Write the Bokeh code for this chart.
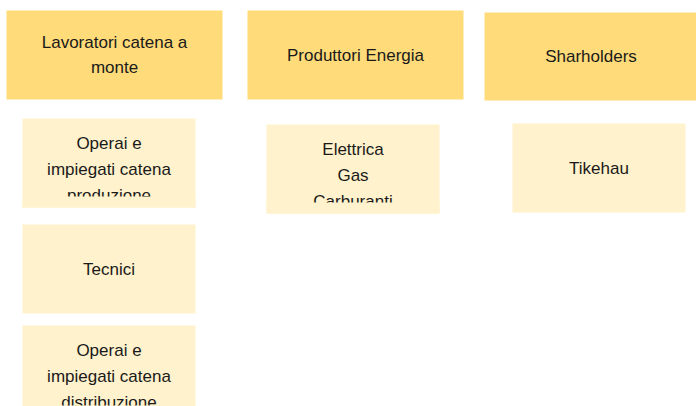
from bokeh.plotting import figure
from bokeh.models import Range1d
from bokeh.core.properties import value
from bokeh.embed import file_html
from bokeh.resources import INLINE

# ---- data ----
headers = ["Lavoratori catena a\nmonte", "Produttori Energia", "Sharholders"]
col1_items = ["Operai e\nimpiegati catena\nproduzione", "Tecnici", "Operai e\nimpiegati catena\ndistribuzione"]
col2_items = ["Elettrica\nGas\nCarburanti"]
col3_items = ["Tikehau"]

# ---- layout (page pixel coordinates) ----
header_boxes = [(6, 222, 10, 99), (247, 463, 10, 99), (484, 697, 12, 100)]
item_boxes = [
    [(22, 195, 118, 207), (22, 195, 224, 313), (22, 195, 325, 416)],
    [(266, 439, 124, 213)],
    [(512, 685, 123, 212)],
]
HEADER_COLOR = "#FFDB79"
ITEM_COLOR = "#FFF2CC"
TEXT_COLOR = "#1A1A1A"
FONT = "Liberation Sans"
FS = "17px"
LINE = 26
CLIP = 11

p = figure(width=696, height=406, output_backend="svg", toolbar_location=None,
           x_range=Range1d(0, 696), y_range=Range1d(406, 0), min_border=0)
p.axis.visible = False
p.grid.visible = False
p.outline_line_color = None
p.background_fill_color = "white"
p.border_fill_color = "white"

def draw(labels, boxes, color):
    l = [b[0] for b in boxes]; r = [b[1] for b in boxes]
    t = [b[2] for b in boxes]; bt = [b[3] for b in boxes]
    p.quad(left=l, right=r, top=t, bottom=bt, fill_color=color, line_color=None)
    xs, ys, ts = [], [], []
    covers = []
    for lab, (x0, x1, y0, y1) in zip(labels, boxes):
        lines = lab.split("\n")
        cx = (x0 + x1) / 2
        if len(lines) == 3:
            start = y0 + 25
            covers.append((x0, x1, y1 - CLIP, y1))
        else:
            start = (y0 + y1) / 2 - (len(lines) - 1) * 12.5
        step = LINE if len(lines) == 3 else 25
        for i, ln in enumerate(lines):
            xs.append(cx); ys.append(start + i * step); ts.append(ln)
    p.text(x=xs, y=ys, text=ts, text_align="center", text_baseline="middle",
           text_font=value(FONT), text_font_size=FS, text_color=TEXT_COLOR)
    if covers:
        p.quad(left=[c[0] for c in covers], right=[c[1] for c in covers],
               top=[c[2] for c in covers], bottom=[c[3] for c in covers],
               fill_color=color, line_color=None)

draw(headers, header_boxes, HEADER_COLOR)
for items, boxes in zip([col1_items, col2_items, col3_items], item_boxes):
    draw(items, boxes, ITEM_COLOR)

open("out.html", "w").write(file_html(p, INLINE))
